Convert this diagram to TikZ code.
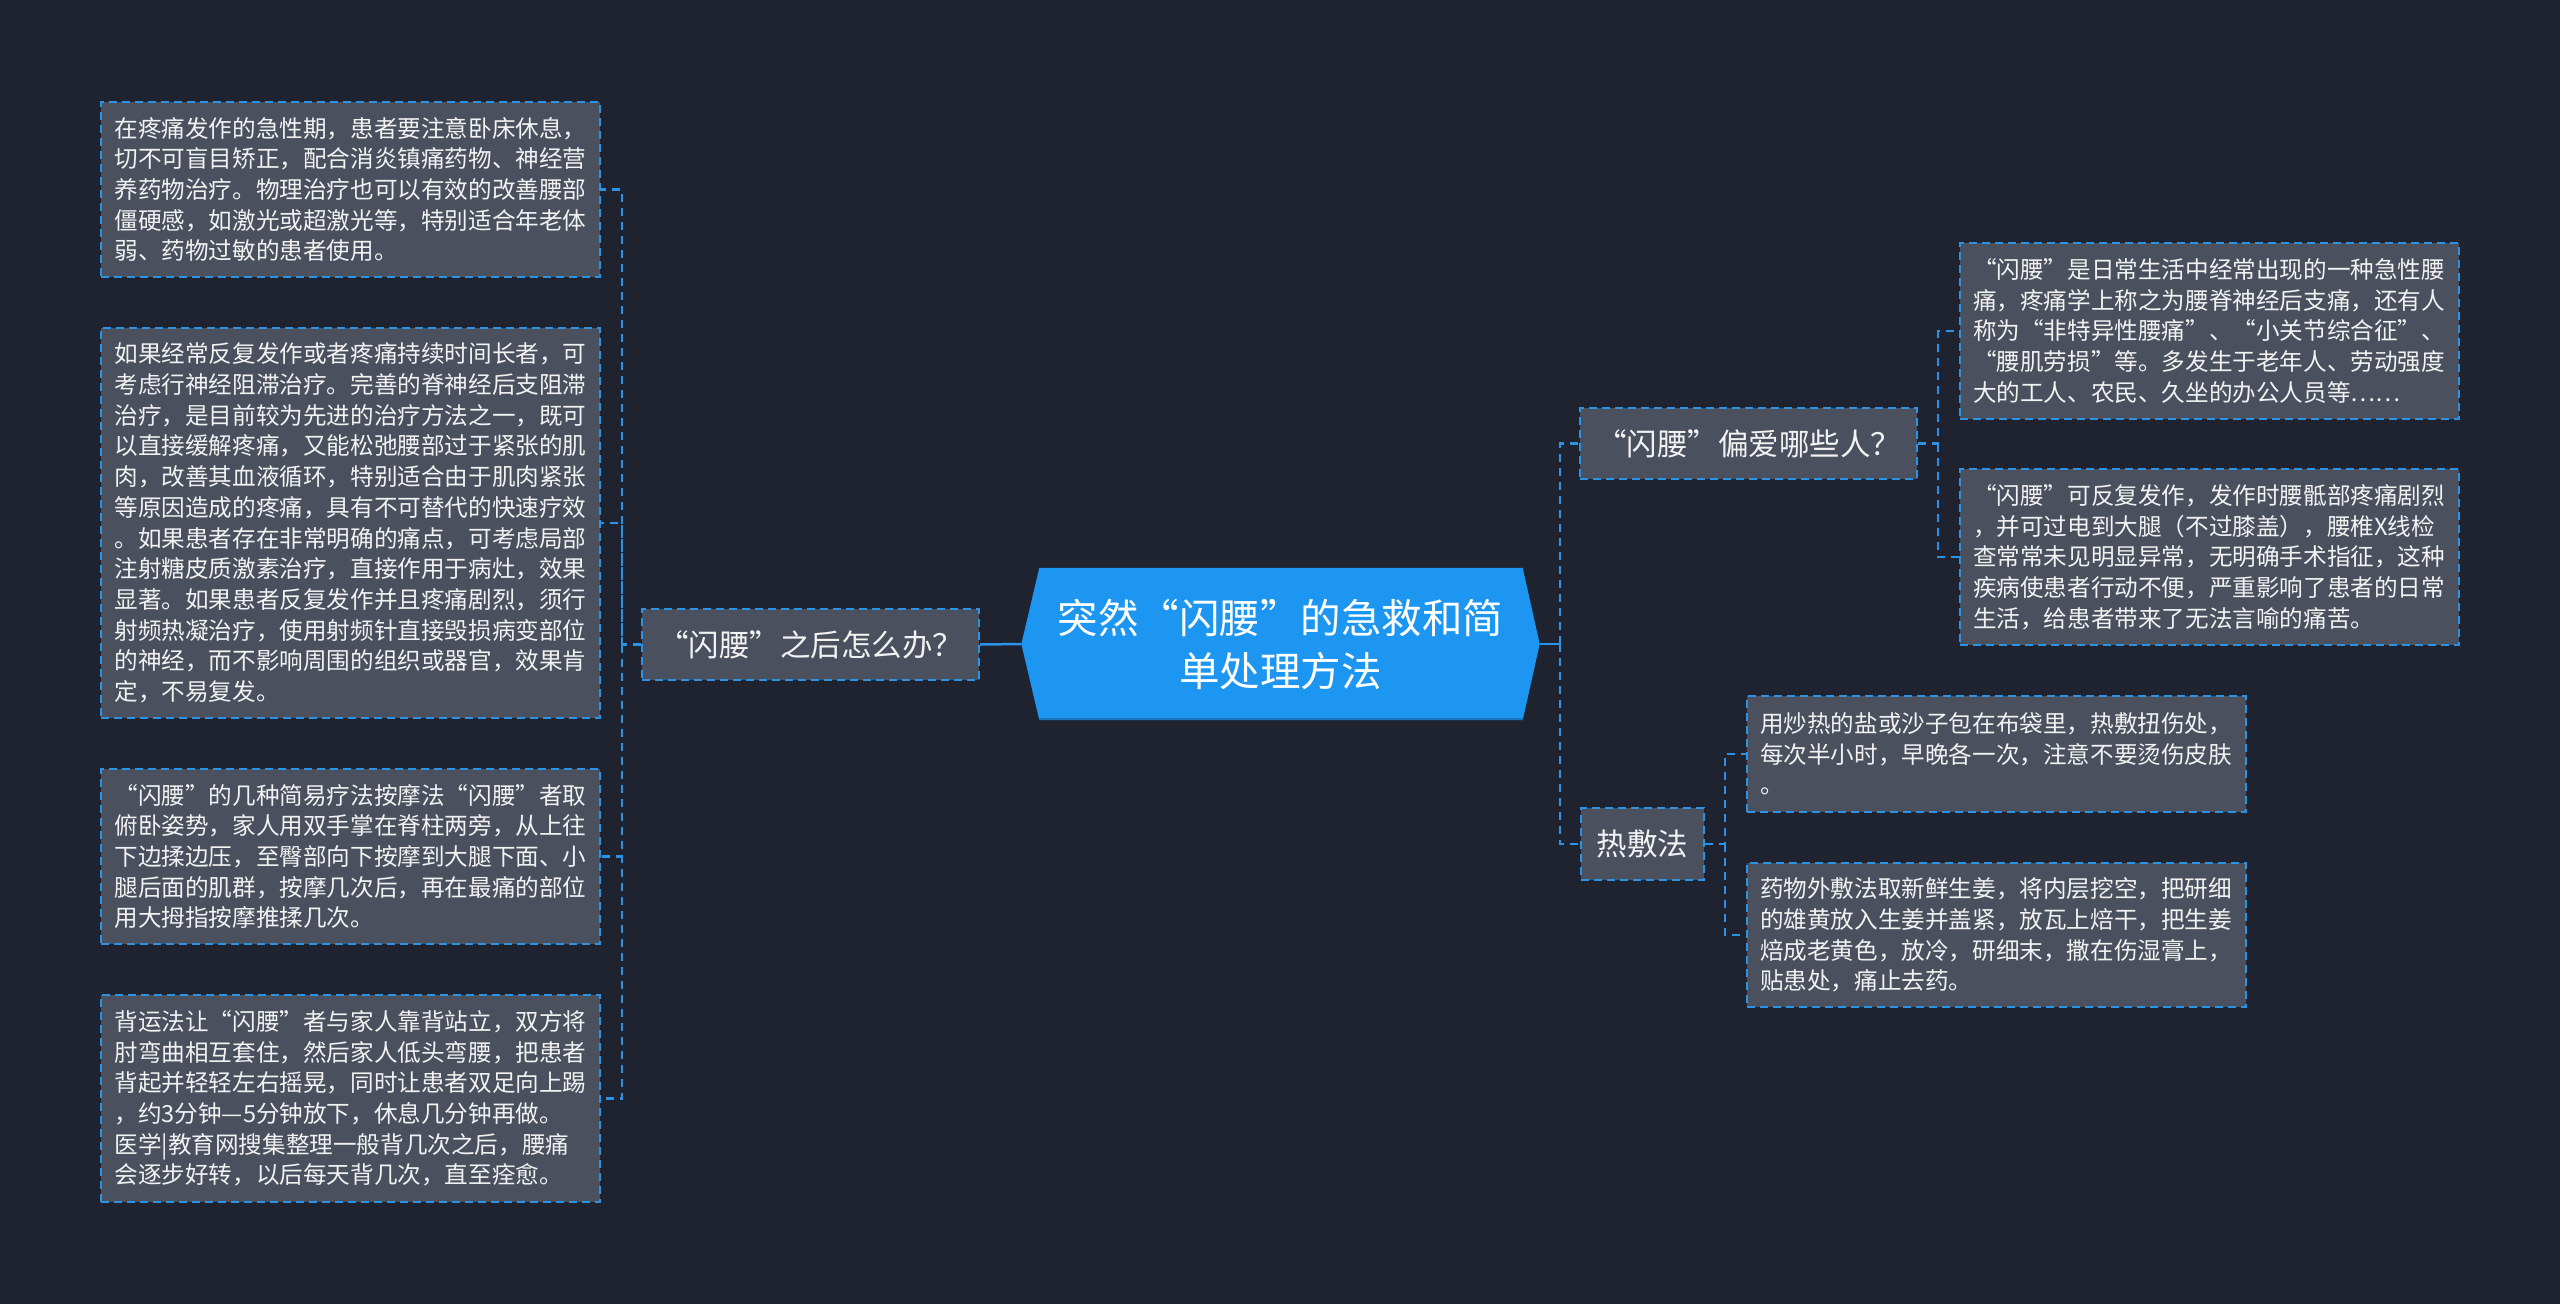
\documentclass[tikz,border=0pt]{standalone}
\usepackage{fontspec}
\setmainfont{Noto Sans CJK SC}
\usetikzlibrary{backgrounds,calc}
\definecolor{bgc}{HTML}{1F2330}
\definecolor{boxc}{HTML}{4A505E}
\definecolor{linec}{HTML}{2A93E6}
\definecolor{mainc}{HTML}{1C96F0}
\definecolor{mainedge}{HTML}{1674BC}
\definecolor{txtc}{HTML}{F2F2F2}
\begin{document}
\begin{tikzpicture}[x=1pt,y=-1pt,
  box/.style={draw=linec, line width=2pt, dash pattern=on 8pt off 5pt, fill=boxc, text=txtc,
    inner xsep=13pt, inner ysep=0pt, text width=472pt, align=left, minimum width=499pt,
    font=\fontsize{23.6}{30.7}\selectfont},
  topic/.style={draw=linec, line width=2pt, dash pattern=on 8pt off 5pt, fill=boxc, text=txtc,
    inner sep=0pt, font=\fontsize{30.5}{38}\selectfont},
  conn/.style={draw=linec, line width=2.5pt, dash pattern=on 8pt off 6pt},
  solidconn/.style={draw=linec, line width=2.5pt}]
\useasboundingbox (0,0) rectangle (2560,1304);
\begin{scope}[on background layer]
\fill[bgc] (0,0) rectangle (2560,1304);
\end{scope}

% center
\node[font=\fontsize{40.5}{53}\selectfont, text=white, align=center, minimum width=518pt,
  minimum height=152pt, inner sep=0pt] (C) at (1280.5,644) {突然“闪腰”的急救和简\\单处理方法};
\begin{scope}[on background layer]
\fill[mainc] ($(C.north west)+(18,0)$) -- ($(C.north east)+(-17,0)$) -- (C.east)
  -- ($(C.south east)+(-17,0)$) -- ($(C.south west)+(18,0)$) -- (C.west) -- cycle;
\draw[mainedge, line width=2pt] ($(C.south west)+(18,-1)$) -- ($(C.south east)+(-17,-1)$);
\end{scope}

% left branch
\node[topic, minimum width=337pt, minimum height=71pt] (M1) at (810.5,644.5) {“闪腰”之后怎么办？};

\node[box, minimum height=175pt] (L1) at (350.5,189.5) {在疼痛发作的急性期，患者要注意卧床休息，\\切不可盲目矫正，配合消炎镇痛药物、神经营\\养药物治疗。物理治疗也可以有效的改善腰部\\僵硬感，如激光或超激光等，特别适合年老体\\弱、药物过敏的患者使用。};

\node[box, minimum height=390pt] (L2) at (350.5,523) {如果经常反复发作或者疼痛持续时间长者，可\\考虑行神经阻滞治疗。完善的脊神经后支阻滞\\治疗，是目前较为先进的治疗方法之一，既可\\以直接缓解疼痛，又能松弛腰部过于紧张的肌\\肉，改善其血液循环，特别适合由于肌肉紧张\\等原因造成的疼痛，具有不可替代的快速疗效\\。如果患者存在非常明确的痛点，可考虑局部\\注射糖皮质激素治疗，直接作用于病灶，效果\\显著。如果患者反复发作并且疼痛剧烈，须行\\射频热凝治疗，使用射频针直接毁损病变部位\\的神经，而不影响周围的组织或器官，效果肯\\定，不易复发。};

\node[box, minimum height=175pt] (L3) at (350.5,856.5) {“闪腰”的几种简易疗法按摩法“闪腰”者取\\俯卧姿势，家人用双手掌在脊柱两旁，从上往\\下边揉边压，至臀部向下按摩到大腿下面、小\\腿后面的肌群，按摩几次后，再在最痛的部位\\用大拇指按摩推揉几次。};

\node[box, minimum height=207pt] (L4) at (350.5,1098.5) {背运法让“闪腰”者与家人靠背站立，双方将\\肘弯曲相互套住，然后家人低头弯腰，把患者\\背起并轻轻左右摇晃，同时让患者双足向上踢\\，约3分钟—5分钟放下，休息几分钟再做。\\医学|教育网搜集整理一般背几次之后，腰痛\\会逐步好转，以后每天背几次，直至痊愈。};

% right branch
\node[topic, minimum width=337pt, minimum height=71pt] (R1) at (1748.5,443.5) {“闪腰”偏爱哪些人？};
\node[topic, minimum width=123pt, minimum height=72pt] (R2) at (1642.5,844) {热敷法};

\node[box, minimum height=176pt] (RB1) at (2209,331) {“闪腰”是日常生活中经常出现的一种急性腰\\痛，疼痛学上称之为腰脊神经后支痛，还有人\\称为“非特异性腰痛”、“小关节综合征”、\\“腰肌劳损”等。多发生于老年人、劳动强度\\大的工人、农民、久坐的办公人员等……};

\node[box, minimum height=176pt] (RB2) at (2209,557) {“闪腰”可反复发作，发作时腰骶部疼痛剧烈\\，并可过电到大腿（不过膝盖），腰椎X线检\\查常常未见明显异常，无明确手术指征，这种\\疾病使患者行动不便，严重影响了患者的日常\\生活，给患者带来了无法言喻的痛苦。};

\node[box, minimum height=116pt] (RB3) at (1996,754) {用炒热的盐或沙子包在布袋里，热敷扭伤处，\\每次半小时，早晚各一次，注意不要烫伤皮肤\\。};

\node[box, minimum height=144pt] (RB4) at (1996,935) {药物外敷法取新鲜生姜，将内层挖空，把研细\\的雄黄放入生姜并盖紧，放瓦上焙干，把生姜\\焙成老黄色，放冷，研细末，撒在伤湿膏上，\\贴患处，痛止去药。};

% junctions
\coordinate (jl) at (622,644.5);
\coordinate (jr) at (1560,644);
\coordinate (jr1) at (1938,443.5);
\coordinate (jr2) at (1725,844);

% connectors
\draw[solidconn] (C.west) -- (M1.east);
\draw[conn] (M1.west) -- (jl) |- (L1.east);
\draw[conn] (jl) |- (L2.east);
\draw[conn] (jl) |- (L3.east);
\draw[conn] (jl) |- (L4.east);

\draw[solidconn] (C.east) -- (jr);
\draw[conn] (jr) |- (R1.west);
\draw[conn] (jr) |- (R2.west);
\draw[conn] (R1.east) -- (jr1) |- (RB1.west);
\draw[conn] (jr1) |- (RB2.west);
\draw[conn] (R2.east) -- (jr2) |- (RB3.west);
\draw[conn] (jr2) |- (RB4.west);
\end{tikzpicture}
\end{document}
